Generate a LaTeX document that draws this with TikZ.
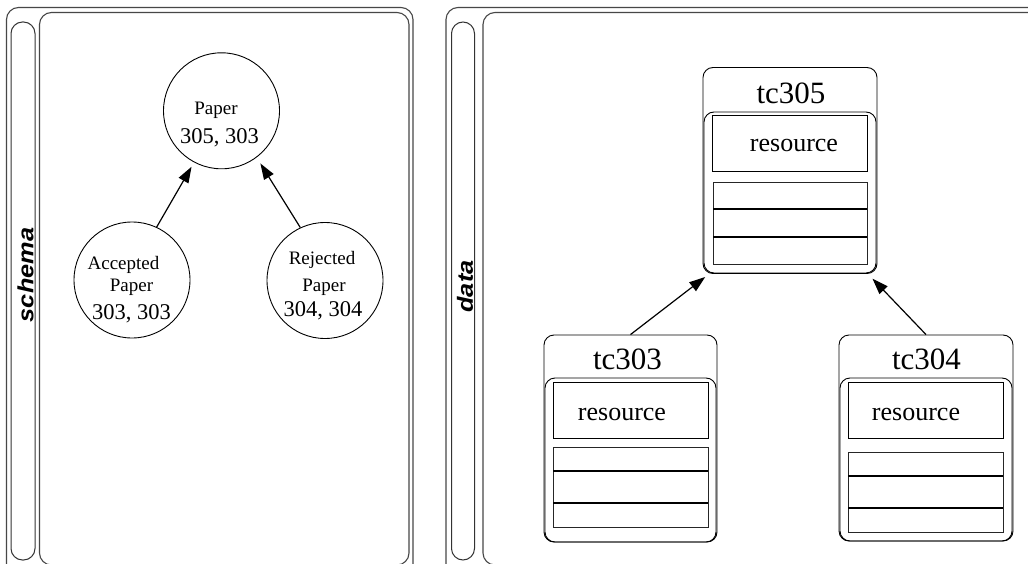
\documentclass[tikz,border=0pt]{standalone}
\usepackage{fontspec}
\setmainfont{Liberation Serif}
\newfontfamily\tagfont{Liberation Sans}
\usetikzlibrary{arrows.meta}

\begin{document}
\begin{tikzpicture}[x=1pt,y=-1pt,
  panel/.style={draw=black!72,line width=1.1pt,rounded corners=12pt},
  lane/.style={draw=black!80,line width=1pt,rounded corners=11.5pt},
  tag/.style={rotate=90,inner sep=0pt,font=\tagfont\bfseries\itshape\fontsize{22}{22}\selectfont},
  cls/.style={circle,draw,line width=0.9pt,minimum size=116pt,inner sep=0pt},
  small/.style={inner sep=0pt,font=\fontsize{19}{19}\selectfont},
  nums/.style={inner sep=0pt,font=\fontsize{22.5}{22.5}\selectfont},
  inst/.style={rectangle,draw,line width=0.9pt,rounded corners=10pt,minimum width=174pt,minimum height=206pt,inner sep=0pt},
  body/.style={draw,line width=0.9pt,rounded corners=10pt},
  title/.style={inner sep=0pt,font=\fontsize{31}{31}\selectfont},
  slot/.style={rectangle,draw,line width=0.8pt,minimum width=155pt,minimum height=56pt,inner sep=0pt},
  slottext/.style={inner sep=0pt,font=\fontsize{26}{26}\selectfont},
  cellbox/.style={draw=black!85,line width=0.8pt},
  cellrule/.style={draw,line width=1.1pt},
  link/.style={draw,line width=1.2pt,-{Triangle[length=16pt,width=11pt]}}]

\useasboundingbox (0,0) rectangle (1028,564);
\clip (0,0) rectangle (1028,564);
\fill[white] (0,0) rectangle (1028,564);

% ---------- schema panel ----------
\draw[panel] (6.5,7.5) rectangle (413,580);
\draw[lane]  (11,22) rectangle (35,560);
\draw[panel] (39.5,12.5) rectangle (409,565);
\node[tag] (schematag) at (25.5,275) {\scalebox{1.15}[1]{schema}};

\node[cls] (paper) at (221.5,110.8) {};
\node[small] (paper-a) at (216,110) {Paper};
\node[nums]  (paper-b) at (219.5,137.5) {305, 303};

\node[cls] (acc) at (132,280) {};
\node[small] (acc-a) at (123.5,264.5) {Accepted};
\node[small] (acc-b) at (131.5,287.5) {Paper};
\node[nums]  (acc-c) at (131.5,314) {303, 303};

\node[cls] (rej) at (325,280.5) {};
\node[small] (rej-a) at (322,259.5) {Rejected};
\node[small] (rej-b) at (324,287.5) {Paper};
\node[nums]  (rej-c) at (323,310.5) {304, 304};

\draw[link,shorten >=5pt] (acc.65) -- (paper.242);
\draw[link,shorten >=7pt] (rej.115) -- (paper.307);

% ---------- data panel ----------
\draw[panel] (446,7.5) rectangle (1045,580);
\draw[lane]  (451.5,22) rectangle (474.5,560);
\draw[panel] (483,12.5) rectangle (1040,565);
\node[tag] (datatag) at (465,286.5) {\scalebox{1.15}[1]{data}};

% tc305
\node[inst] (tc305) at (790,170.5) {};
\node[title] (tc305-name) at (791,93) {tc305};
\draw[body] (704,112) rectangle (876,273);
\node[slot] (tc305-slot) at (790,143.5) {};
\node[slottext] (tc305-res) at (794,146) {resource};
\draw[cellbox] (713,182) rectangle (867,264);
\draw[cellrule] (713,209) -- (867,209) (713,237) -- (867,237);

% tc303
\node[inst,minimum width=173pt,minimum height=207pt] (tc303) at (630.5,438.5) {};
\node[title] (tc303-name) at (627.5,359) {tc303};
\draw[body] (545,378) rectangle (716,542);
\node[slot] (tc303-slot) at (630.5,410) {};
\node[slottext] (tc303-res) at (622,414) {resource};
\draw[cellbox] (553,447) rectangle (708,527);
\draw[cellrule] (553,471) -- (708,471) (553,503) -- (708,503);

% tc304
\node[inst,minimum height=206pt] (tc304) at (926,438) {};
\node[title] (tc304-name) at (926.5,359) {tc304};
\draw[body] (840,378) rectangle (1012,541);
\node[slot] (tc304-slot) at (925.5,410) {};
\node[slottext] (tc304-res) at (916,414) {resource};
\draw[cellbox] (848,452) rectangle (1003,532);
\draw[cellrule] (848,476) -- (1003,476) (848,508) -- (1003,508);

\draw[link,shorten >=5pt] (tc303.north) -- (tc305.232.8);
\draw[link,shorten >=6.5pt] (tc304.north) -- (tc305.307.8);
\end{tikzpicture}
\end{document}
